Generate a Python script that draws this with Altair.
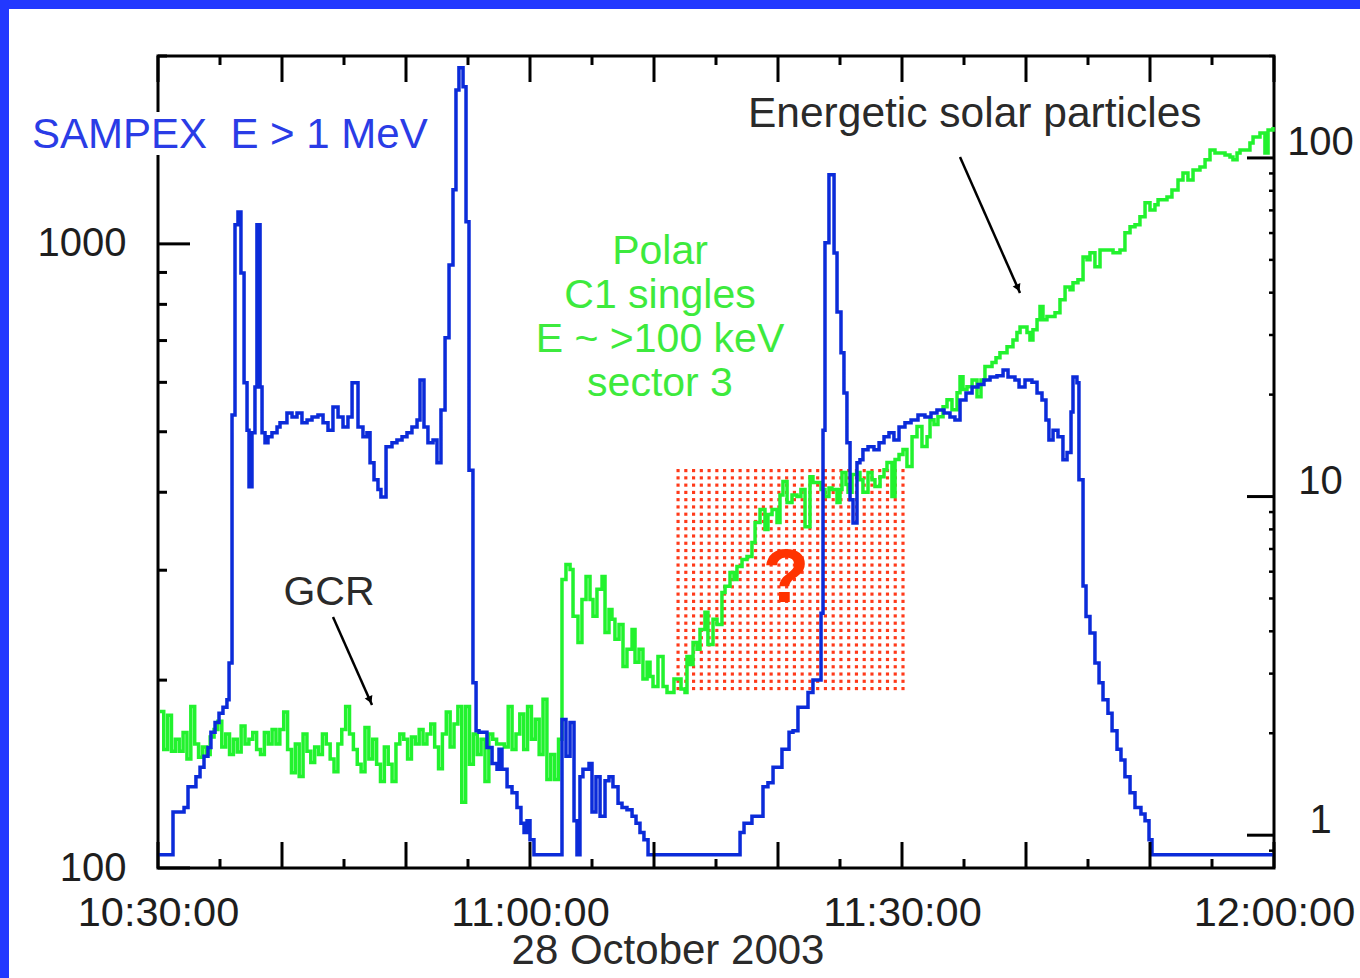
import altair as alt
import numpy as np
import pandas as pd

FONT = "Liberation Sans"

# ---------------- data (minutes after 10:30:00 UT, 28 Oct 2003) ----------------
# SAMPEX E > 1 MeV count rate (left axis)
blue_t = [0, 1.21, 2.10, 2.42, 3.06, 3.39, 3.71, 4.03, 4.27, 4.60, 4.92, 5.24, 5.56, 5.73,
          5.97, 6.21, 6.45, 6.69, 6.94, 7.18, 7.34, 7.58, 7.82, 7.98, 8.23, 8.39, 8.63, 8.87,
          9.19, 9.60, 9.84, 10.40, 10.81, 11.21, 11.61, 12.02, 12.42, 12.90, 13.31, 13.71,
          14.11, 14.52, 14.92, 15.32, 15.65, 16.13, 16.53, 16.85, 17.10, 17.42, 17.74, 17.98,
          18.39, 18.87, 19.27, 19.68, 20.08, 20.48, 20.89, 21.13, 21.45, 21.77, 22.18, 22.50,
          22.82, 23.15, 23.47, 23.79, 24.03, 24.27, 24.60, 24.84, 25.08, 25.40, 25.65, 25.89,
          26.53, 26.94, 27.34, 27.50, 27.74, 28.15, 28.55, 28.95, 29.27, 29.52, 29.76, 30.00,
          30.32, 32.58, 32.90, 33.23, 33.55, 33.79, 34.03, 34.27, 34.76, 35.00, 35.32, 35.65,
          36.05, 36.37, 36.69, 37.10, 37.42, 37.82, 38.23, 38.55, 38.87, 39.19, 39.52, 46.94,
          47.26, 47.90, 48.79, 49.19, 49.60, 50.32, 50.89, 51.21, 51.61, 52.42, 52.82, 53.47,
          53.63, 53.79, 54.11, 54.52, 54.76, 55.08, 55.32, 55.56, 55.81, 56.05, 56.37, 56.61,
          56.85, 57.26, 57.74, 58.15, 58.55, 58.95, 59.35, 59.76, 60.24, 60.73, 61.29, 61.85,
          62.34, 62.82, 63.39, 63.87, 64.27, 64.68, 65.16, 65.65, 66.13, 66.61, 67.10, 67.66,
          68.15, 68.55, 69.11, 69.44, 69.92, 70.48, 70.89, 71.29, 71.61, 71.85, 72.18, 72.58,
          72.98, 73.31, 73.63, 73.79, 74.11, 74.27, 74.60, 74.84, 75.16, 75.56, 75.89, 76.21,
          76.61, 76.94, 77.34, 77.66, 77.98, 78.39, 78.79, 79.27, 79.60, 79.92, 80.16, 90.0]
blue_v = [105, 123, 125, 135, 140, 145, 151, 156, 165, 171, 177, 181, 186, 213,
          532, 1073, 1125, 898, 599, 503, 408, 498, 590, 1073, 590, 498, 480, 491,
          498, 509, 517, 536, 528, 536, 517, 522, 528, 532, 517, 503,
          548, 528, 509, 528, 599, 509, 491, 498, 446, 419, 404, 393,
          473, 480, 485, 491, 498, 509, 522, 605, 509, 480, 485, 446,
          542, 707, 925, 1221, 1765, 1915, 1785, 1085, 434, 198, 166, 165,
          156, 147, 144, 155, 144, 135, 132, 125, 118, 114, 119, 111,
          105, 173, 151, 171, 119, 105, 140, 144, 147, 123, 140, 121,
          138, 140, 135, 127, 125, 124, 121, 118, 114, 111, 105, 114,
          118, 121, 135, 137, 145, 155, 165, 166, 181, 191, 200, 256,
          503, 1004, 1290, 967, 778, 669, 577, 480, 389, 357, 446, 451,
          468, 473, 468, 480, 491, 498, 485, 509, 517, 522, 532, 528,
          536, 542, 536, 528, 522, 562, 577, 590, 595, 605, 612, 615,
          628, 612, 605, 590, 605, 600, 577, 562, 522, 485, 503, 491,
          451, 463, 538, 612, 599, 419, 283, 253, 238, 213, 198, 186,
          177, 166, 155, 149, 140, 132, 125, 122, 119, 111, 105, 105]

# Polar C1 singles (right axis): quiet GCR background, sampled regularly
green_base_v = [2.32, 1.79, 2.26, 1.77, 1.92, 1.77, 2.01, 1.68, 2.40, 1.86, 1.70, 1.82,
                1.73, 1.95, 2.05, 2.17, 1.82, 1.99, 1.73, 1.92, 1.76, 2.10, 1.86, 1.92,
                2.01, 1.79, 1.73, 2.01, 1.86, 2.05, 1.86, 2.05, 2.31, 1.79, 1.53,
                1.86, 1.49, 1.99, 1.77, 1.64, 1.82, 1.73, 1.99, 1.86, 1.68, 1.54, 1.86,
                2.05, 2.40, 1.99, 1.79, 1.62, 1.54, 2.08, 1.68, 1.92, 1.62, 1.44, 1.82,
                1.62, 1.44, 1.86, 1.99, 1.92, 1.68, 1.95, 1.86, 2.05, 1.86, 1.99,
                2.13, 1.82, 1.57, 1.99, 2.31, 1.82, 2.13, 2.40, 1.25, 2.40, 1.62, 1.99,
                1.73, 1.92, 1.44, 1.99, 1.92, 1.86, 1.86, 1.82, 2.40, 1.79, 1.99, 2.28,
                1.79, 2.40, 1.92, 2.20, 1.73, 2.52, 1.46, 1.73, 1.46, 1.92]
green_base_start, green_base_end = 0.15, 32.3   # sampling window (minutes)

green_t2 = [32.58, 32.90, 33.23, 33.47, 33.87, 34.19, 34.52, 34.84, 35.08, 35.40, 35.81,
            36.05, 36.37, 36.61, 36.85, 37.18, 37.50, 37.82, 38.23, 38.47, 38.79, 39.11,
            39.44, 39.68, 39.92, 40.32, 40.73, 41.05, 41.29, 41.61, 41.85, 42.18, 42.50,
            42.66, 42.90, 43.15, 43.47, 43.71, 44.11, 44.35, 44.76, 45.08, 45.48, 45.73,
            46.13, 46.45, 46.69, 47.10, 47.50, 47.90, 48.15, 48.55, 48.95, 49.19, 49.52,
            49.92, 50.16, 50.40, 50.73, 51.13, 51.53, 51.85, 52.18, 52.58, 52.82, 53.15,
            53.47, 53.79, 54.11, 54.35, 54.76, 55.00, 55.16, 55.48, 55.65, 55.97, 56.37,
            56.61, 56.85, 57.26, 57.58, 57.82, 58.23, 58.55, 58.79, 59.19, 59.44, 59.76,
            60.08, 60.40, 60.81, 61.21, 61.61, 62.02, 62.26, 62.58, 62.90, 63.31, 63.63,
            64.03, 64.44, 64.68, 64.92, 65.24, 65.65, 66.05, 66.37, 66.69, 67.26, 67.58,
            67.90, 68.47, 68.95, 69.27, 69.52, 70.08, 70.32, 70.56, 70.89, 71.13, 71.37,
            71.69, 71.94, 72.34, 72.74, 73.15, 73.55, 73.79, 74.19, 74.60, 74.92, 75.16,
            75.56, 75.97, 76.61, 77.02, 77.58, 77.98, 78.39, 78.79, 79.19, 79.60, 80.00,
            80.40, 80.65, 81.05, 81.37, 81.77, 82.26, 82.66, 83.06, 83.47, 84.03, 84.44,
            84.84, 85.24, 85.65, 86.05, 86.45, 86.69, 87.02, 87.26, 87.66, 88.06, 88.31,
            88.63, 88.87, 89.27, 89.52, 89.92]
green_v2 = [5.69, 6.30, 6.09, 4.43, 3.71, 4.97, 5.81, 4.97, 4.43, 5.32, 5.81,
            3.97, 4.64, 4.34, 3.79, 4.19, 3.15, 3.54, 4.05, 3.24, 3.54, 2.89,
            3.24, 2.94, 2.75, 3.37, 2.75, 2.64, 2.64, 2.89, 2.89, 2.70, 2.64,
            3.37, 3.19, 3.71, 3.54, 4.05, 4.55, 3.66, 4.34, 4.19, 5.21, 5.43,
            5.97, 5.69, 6.22, 6.52, 6.65, 7.32, 8.38, 9.16, 7.99, 8.85, 9.16,
            8.38, 10.1, 11.07, 9.60, 10.1, 10.0, 10.5, 8.15, 11.45, 11.0, 11.0,
            10.5, 10.0, 10.6, 10.5, 9.6, 10.5, 11.77, 10.85, 10.3, 11.61, 11.77,
            11.22, 10.3, 11.77, 11.22, 10.7, 11.45, 12.0, 12.6, 10.0, 12.86, 13.3,
            13.76, 12.26, 15.03, 16.09, 14.05, 15.03, 16.87, 16.31, 17.22, 18.43, 19.32,
            18.06, 20.27, 22.6, 20.7, 21.1, 22.1, 19.7, 22.1, 24.2, 24.9, 25.7,
            26.6, 27.7, 29.0, 30.5, 31.7, 30.5, 29.0, 31.1, 33.3, 36.4, 33.3,
            34.0, 34.0, 34.9, 38.1, 41.6, 40.8, 42.8, 43.7, 51.0, 50.0, 52.5,
            47.7, 53.5, 53.5, 52.5, 53.5, 60.1, 62.6, 63.5, 67.0, 73.7, 70.2,
            72.7, 75.2, 75.2, 76.7, 80.4, 86.1, 90.3, 86.1, 92.2, 94.1, 98.7,
            105.6, 103.4, 103.4, 102.0, 100.7, 98.7, 103.4, 105.6, 105.6, 110.7, 115.3,
            115.3, 118.5, 103.4, 121.0, 123.4]

# axes
x_tick_values = [0, 30, 60, 90]
x_tick_labels = ["10:30:00", "11:00:00", "11:30:00", "12:00:00"]
x_major = [0, 10, 20, 30, 40, 50, 60, 70, 80, 90]
x_minor = [5, 15, 25, 35, 45, 55, 65, 75, 85]
left_labels = [100, 1000]
left_minor = [200, 300, 400, 500, 600, 700, 800, 900, 2000]
right_labels = [1, 10, 100]
right_minor = [0.9, 2, 3, 4, 5, 6, 7, 8, 9, 20, 30, 40, 50, 60, 70, 80, 90, 200]

X_DOMAIN = [0, 90]
LEFT_DOMAIN = [100, 2000]
RIGHT_DOMAIN = [0.8, 200]

# question-mark region (time window, right-axis value window)
box_t = [41.94, 60.08]
box_v = [2.71, 11.93]

# ---------------- frames ----------------
df_blue = pd.DataFrame({"t": blue_t, "v": blue_v})
green_t = list(np.round(np.linspace(green_base_start, green_base_end, len(green_base_v)), 3)) + green_t2
df_green = pd.DataFrame({"t": green_t, "v": green_base_v + green_v2})
dot_t = np.linspace(box_t[0], box_t[1], 30)
dot_v = np.geomspace(box_v[0], box_v[1], 31)
df_dots = pd.DataFrame([(a, b) for a in dot_t for b in dot_v], columns=["t", "v"])

W, H = 1116, 812
xs = alt.Scale(domain=X_DOMAIN, nice=False, zero=False)
ls = alt.Scale(type="log", domain=LEFT_DOMAIN, nice=False)
rs = alt.Scale(type="log", domain=RIGHT_DOMAIN, nice=False)

BLUE = "#0b2bd9"
GREEN = "#22f22e"
LBL = "#1e1e1e"

x_label_expr = "[" + ",".join("'%s'" % s for s in x_tick_labels) + "][round(datum.value/30)]"

x_axis = alt.Axis(values=x_tick_values, labelExpr=x_label_expr, ticks=False, tickSize=0,
                  domain=False, grid=False, title=None, labelFont=FONT, labelFontSize=41.5,
                  labelColor=LBL, labelPadding=24, labelFlush=False, labelOverlap=False)

dots = alt.Chart(df_dots).mark_square(size=10, color="#ff3a1a", opacity=1).encode(
    x=alt.X("t:Q", scale=xs, axis=None),
    y=alt.Y("v:Q", scale=rs, axis=None),
)

green = alt.Chart(df_green).mark_line(color=GREEN, strokeWidth=3.5, interpolate="step-after").encode(
    x=alt.X("t:Q", scale=xs, axis=x_axis),
    y=alt.Y("v:Q", scale=rs, axis=alt.Axis(orient="right", values=right_labels, format="d",
            ticks=False, tickSize=0, domain=False, grid=False, title=None, labelFont=FONT,
            labelFontSize=40, labelColor=LBL, labelAlign="center", labelPadding=46,
            labelOffset=-15)),
)

blue = alt.Chart(df_blue).mark_line(color=BLUE, strokeWidth=3.5, interpolate="step-after").encode(
    x=alt.X("t:Q", scale=xs, axis=None),
    y=alt.Y("v:Q", scale=ls, axis=alt.Axis(orient="left", values=left_labels, format="d",
            ticks=False, tickSize=0, domain=False, grid=False, title=None, labelFont=FONT,
            labelFontSize=40, labelColor=LBL, labelPadding=32)),
)

# inward ticks
def xticks(vals, length, sw):
    d = pd.DataFrame({"t": vals})
    bot = alt.Chart(d).mark_rule(color="black", strokeWidth=sw).encode(
        x=alt.X("t:Q", scale=xs, axis=None), y=alt.value(H), y2=alt.value(H - length))
    top = alt.Chart(d).mark_rule(color="black", strokeWidth=sw).encode(
        x=alt.X("t:Q", scale=xs, axis=None), y=alt.value(0), y2=alt.value(length))
    return [bot, top]

def yticks(vals, scale, side, length, sw):
    d = pd.DataFrame({"v": vals})
    if side == "left":
        x0, x1 = 0, length
    else:
        x0, x1 = W, W - length
    return alt.Chart(d).mark_rule(color="black", strokeWidth=sw).encode(
        y=alt.Y("v:Q", scale=scale, axis=None), x=alt.value(x0), x2=alt.value(x1))

one = pd.DataFrame({"k": [0]})

def txt(text, x, y, size, color, align="left", baseline="alphabetic", weight="normal", lh=None):
    kw = dict(text=text, font=FONT, fontSize=size, color=color, align=align,
              baseline=baseline, fontWeight=weight)
    if lh is not None:
        kw["lineHeight"] = lh
    return alt.Chart(one).mark_text(**kw).encode(x=alt.value(x), y=alt.value(y))

def rect(x, x2, y, y2, color):
    return alt.Chart(one).mark_rect(color=color).encode(
        x=alt.value(x), x2=alt.value(x2), y=alt.value(y), y2=alt.value(y2))

def arrow(x, y, x2, y2):
    line = alt.Chart(one).mark_rule(color="black", strokeWidth=2.5).encode(
        x=alt.value(x), y=alt.value(y), x2=alt.value(x2), y2=alt.value(y2))
    head = alt.Chart(one).mark_point(shape="triangle-up", angle=156, size=70, filled=True,
                                     color="black", opacity=1).encode(
        x=alt.value(x2 - 2), y=alt.value(y2 - 5))
    return [line, head]

NB = "\u00a0"
layers = [
    rect(-158, 1202, -56, -47, "#2238ff"),
    rect(-158, -149, -56, 922, "#2238ff"),
    dots, green, blue,
    *xticks(x_major, 26, 3), *xticks(x_minor, 9, 3),
    yticks(left_labels, ls, "left", 32, 3), yticks(left_minor, ls, "left", 9, 3),
    yticks(right_labels, rs, "right", 27, 3), yticks(right_minor, rs, "right", 5, 2.5),
    rect(-4, 4, 56, 99, "white"),
    txt("SAMPEX" + NB + NB + "E" + NB + ">" + NB + "1" + NB + "MeV", -126, 92, 42, "#2a3ce6"),
    txt("Energetic solar particles", 590, 71, 42.5, "#2a2a2a"),
    txt("GCR", 171, 549, 41, "#2a2a2a", align="center"),
    txt(["Polar", "C1 singles", "E ~ >100 keV", "sector 3"], 502, 196, 41, "#3dea3d",
        align="center", baseline="middle", lh=44),
    txt("?", 628, 546, 76, "#ff3300", align="center", weight="bold"),
    txt("28 October 2003", 510, 908, 42, "#2a2a2a", align="center"),
    *arrow(175, 561, 214, 649),
    *arrow(802, 101, 862, 237),
]

chart = alt.layer(*layers).resolve_scale(y="independent").resolve_axis(x="independent").properties(
    width=W, height=H,
    padding={"left": 158, "top": 56, "right": 86, "bottom": 110},
    autosize=alt.AutoSizeParams(type="none"),
    background="white",
).configure_view(stroke="black", strokeWidth=3)

chart.save("out.html", embed_options={"renderer": "svg", "actions": False})
